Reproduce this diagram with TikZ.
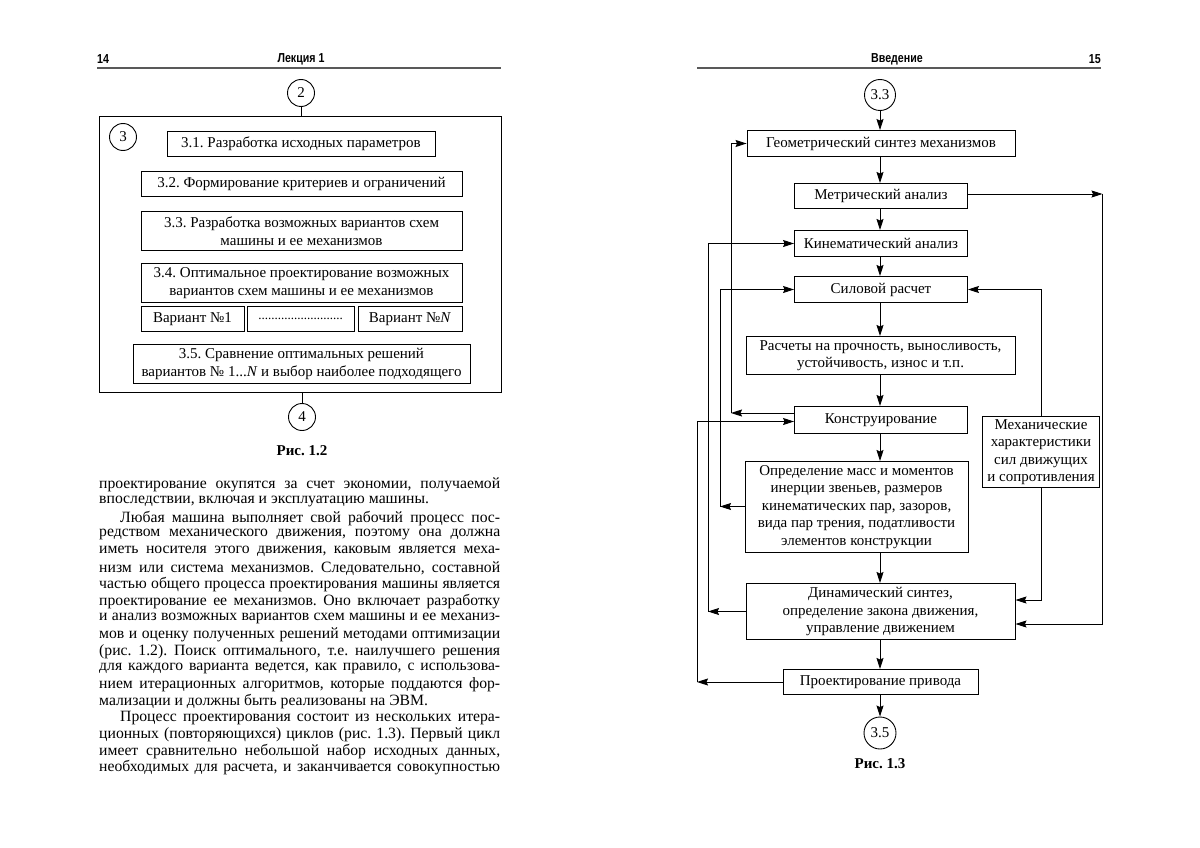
\documentclass[tikz,border=0pt]{standalone}
\usepackage{fontspec}
\setmainfont{Liberation Serif}
\newfontfamily\hdrfont{Liberation Sans}[FakeStretch=0.82]
\usetikzlibrary{arrows.meta}
\frenchspacing
\begin{document}
\begin{tikzpicture}[x=1pt,y=-1pt,
  every node/.style={font=\fontsize{15}{16}\selectfont},
  bx/.style={draw,line width=0.9pt,inner sep=0pt,align=center,
    font=\fontsize{15}{17.5}\selectfont},
  circ/.style={draw,circle,line width=0.9pt,inner sep=0pt,
    font=\fontsize{15}{16}\selectfont},
  ln/.style={line width=0.9pt},
  arr/.style={line width=0.9pt,-{Stealth[length=11pt,width=7pt,inset=1.5pt]}},
  hdr/.style={inner sep=0pt,font=\hdrfont\bfseries\fontsize{13}{14}\selectfont},
  figcap/.style={inner sep=0pt,font=\bfseries\fontsize{15}{16}\selectfont},
  body/.style={inner sep=0pt,anchor=west,font=\fontsize{15.7}{16}\selectfont},
]
\useasboundingbox (0,0) rectangle (1200,848);
\fill[white] (0,0) rectangle (1200,848);

% ---------- headers ----------
\node[hdr,anchor=west] (p14) at (97,59) {14};
\node[hdr] (lek) at (301,59) {Лекция 1};
\draw[line width=1.4pt,black!65] (97,68) -- (501,68);
\node[hdr] (vved) at (897,59) {Введение};
\node[hdr,anchor=east] (p15) at (1101,59) {15};
\draw[line width=1.4pt,black!65] (697,68) -- (1101,68);

% ---------- Fig 1.2 ----------
\node[circ,minimum size=27pt] (c2) at (301,93) {2};
\node[draw,line width=0.9pt,minimum width=402pt,minimum height=276pt,inner sep=0pt] (outer) at (300,254) {};
\node[circ,minimum size=27pt] (c3) at (123,137) {3};
\node[bx,minimum width=268pt,minimum height=25pt] (b31) at (301,144) {3.1. Разработка исходных параметров};
\node[bx,minimum width=321pt,minimum height=25pt] (b32) at (301.5,184) {3.2. Формирование критериев и ограничений};
\node[bx,minimum width=321pt,minimum height=39pt] (b33) at (301.5,231) {3.3. Разработка возможных вариантов схем\\машины и ее механизмов};
\node[bx,minimum width=321pt,minimum height=39pt] (b34) at (301.5,283) {3.4. Оптимальное проектирование возможных\\вариантов схем машины и ее механизмов};
\node[bx,minimum width=103pt,minimum height=25pt] (v1) at (192.5,319) {Вариант №1};
\node[bx,minimum width=107pt,minimum height=25pt] (vd) at (300.5,319) {\fontsize{13}{14}\selectfont ..........................};
\node[bx,minimum width=104pt,minimum height=25pt] (vN) at (410,319) {Вариант №\textit{N}};
\node[bx,minimum width=337pt,minimum height=39pt] (b35) at (301.5,364) {3.5. Сравнение оптимальных решений\\вариантов № 1...\textit{N} и выбор наиболее подходящего};
\node[circ,minimum size=27pt] (c4) at (302,417) {4};
\draw[ln] (c2.south) -- (c2.south|-outer.north);
\draw[ln] (c4.north|-outer.south) -- (c4.north);
\node[figcap] (cap12) at (302,451) {Рис. 1.2};

% ---------- body text ----------
\node[body] (t1)  at (99,485.0) {\hbox to 401pt{проектирование окупятся за счет экономии, получаемой}};
\node[body] (t2)  at (99,501.6) {впоследствии, включая и эксплуатацию машины.};
\node[body] (t3)  at (99,518.3) {\hbox to 401pt{\hskip 21pt Любая машина выполняет свой рабочий процесс пос-}};
\node[body] (t4)  at (99,534.9) {\hbox to 401pt{редством механического движения, поэтому она должна}};
\node[body] (t5)  at (99,551.6) {\hbox to 401pt{иметь носителя этого движения, каковым является меха-}};
\node[body] (t6)  at (99,568.2) {\hbox to 401pt{низм или система механизмов. Следовательно, составной}};
\node[body] (t7)  at (99,584.9) {\hbox to 401pt{частью общего процесса проектирования машины является}};
\node[body] (t8)  at (99,601.5) {\hbox to 401pt{проектирование ее механизмов. Оно включает разработку}};
\node[body] (t9)  at (99,618.2) {\hbox to 401pt{и анализ возможных вариантов схем машины и ее механиз-}};
\node[body] (t10) at (99,634.8) {\hbox to 401pt{мов и оценку полученных решений методами оптимизации}};
\node[body] (t11) at (99,651.5) {\hbox to 401pt{(рис. 1.2). Поиск оптимального, т.е. наилучшего решения}};
\node[body] (t12) at (99,668.1) {\hbox to 401pt{для каждого варианта ведется, как правило, с использова-}};
\node[body] (t13) at (99,684.8) {\hbox to 401pt{нием итерационных алгоритмов, которые поддаются фор-}};
\node[body] (t14) at (99,701.4) {мализации и должны быть реализованы на ЭВМ.};
\node[body] (t15) at (99,718.1) {\hbox to 401pt{\hskip 21pt Процесс проектирования состоит из нескольких итера-}};
\node[body] (t16) at (99,734.7) {\hbox to 401pt{ционных (повторяющихся) циклов (рис. 1.3). Первый цикл}};
\node[body] (t17) at (99,751.4) {\hbox to 401pt{имеет сравнительно небольшой набор исходных данных,}};
\node[body] (t18) at (99,768.0) {\hbox to 401pt{необходимых для расчета, и заканчивается совокупностью}};

% ---------- Fig 1.3 ----------
\node[circ,minimum size=31pt] (c33) at (880,95) {3.3};
\node[bx,minimum width=268pt,minimum height=26pt] (geom) at (881,143.5) {Геометрический синтез механизмов};
\node[bx,minimum width=173pt,minimum height=25pt] (metr) at (881,196) {Метрический анализ};
\node[bx,minimum width=173pt,minimum height=26pt] (kin) at (881,243.5) {Кинематический анализ};
\node[bx,minimum width=173pt,minimum height=26pt] (sil) at (881,289.5) {Силовой расчет};
\node[bx,minimum width=269pt,minimum height=38pt] (rasch) at (880.5,355.5) {Расчеты на прочность, выносливость,\\устойчивость, износ и т.п.};
\node[bx,minimum width=173pt,minimum height=27pt] (konstr) at (881,420) {Конструирование};
\node[bx,minimum width=223pt,minimum height=91pt] (opred) at (856.5,507) {Определение масс и моментов\\инерции звеньев, размеров\\кинематических пар, зазоров,\\вида пар трения, податливости\\элементов конструкции};
\node[bx,minimum width=269pt,minimum height=56pt] (dyn) at (880.5,611.5) {Динамический синтез,\\определение закона движения,\\управление движением};
\node[bx,minimum width=195pt,minimum height=25pt] (priv) at (880.5,682) {Проектирование привода};
\node[circ,minimum size=32pt] (c35) at (880,733) {3.5};
\node[bx,minimum width=117pt,minimum height=71pt] (mech) at (1041,452) {Механические\\характеристики\\сил движущих\\и сопротивления};
\node[figcap] (cap13) at (880,764) {Рис. 1.3};

% main chain
\draw[arr] (c33.south) -- (c33.south|-geom.north);
\draw[arr] (880,156) -- (880,183);
\draw[arr] (880,208) -- (880,230);
\draw[arr] (880,256) -- (880,276);
\draw[arr] (880,302) -- (880,336);
\draw[arr] (880,374) -- (880,406);
\draw[arr] (880,433) -- (880,461);
\draw[arr] (880,552) -- (880,583);
\draw[arr] (880,639) -- (880,669);
\draw[arr] (880,694) -- (c35.north);

% feedback loops on the left
\coordinate (k1) at (731,413);
\draw[arr] (konstr.west|-k1) -- (k1);
\draw[arr] (k1) |- (geom.west);

\coordinate (o1) at (720,506.5);
\draw[arr] (opred.west|-o1) -- (o1);
\draw[arr] (o1) |- (sil.west);

\coordinate (d1) at (708,611.5);
\draw[arr] (dyn.west) -- (d1);
\draw[arr] (d1) |- (kin.west);

\coordinate (p1) at (697,682);
\coordinate (k2) at (697,421.5);
\draw[arr] (priv.west) -- (p1);
\draw[arr] (p1) -- (k2) -- (konstr.west|-k2);

% right side
\coordinate (m1) at (1102.5,194);
\coordinate (m2) at (1102.5,624);
\draw[arr] (metr.east|-m1) -- (m1);
\draw[arr] (m1) -- (m2) -- (dyn.east|-m2);
\draw[arr] (mech.north) |- (sil.east);
\coordinate (m3) at (1041,600);
\draw[arr] (mech.south) -- (m3) -- (dyn.east|-m3);
\end{tikzpicture}
\end{document}
